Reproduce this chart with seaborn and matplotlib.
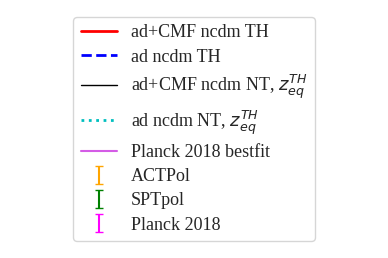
import matplotlib
matplotlib.use("Agg")
import matplotlib.pyplot as plt
import seaborn as sns
import numpy as np

sns.set_style("white")
plt.rcParams['font.family'] = ['Liberation Serif', 'DejaVu Serif']
plt.rcParams['mathtext.fontset'] = 'dejavusans'

labels = ["ad+CMF ncdm TH", "ad ncdm TH", r"ad+CMF ncdm NT, $z_{eq}^{TH}$",
          r"ad ncdm NT, $z_{eq}^{TH}$", "Planck 2018 bestfit"]
ell = [2, 500, 1000, 2000]
curves = {
    "ad+CMF ncdm TH": [1000, 2500, 1800, 800],
    "ad ncdm TH": [1000, 2480, 1790, 790],
    "ad+CMF ncdm NT": [1000, 2490, 1795, 795],
    "ad ncdm NT": [1000, 2470, 1785, 785],
    "Planck 2018 bestfit": [1000, 2450, 1780, 780],
}
data_labels = ["ACTPol", "SPTpol", "Planck 2018"]
data_ell = [600, 1200, 1800]
data_vals = {
    "ACTPol": [2300, 1500, 900],
    "SPTpol": [2280, 1480, 890],
    "Planck 2018": [2320, 1510, 910],
}
data_err = [80, 60, 50]

fig, ax = plt.subplots(figsize=(3.88, 2.58), dpi=100)
styles = [dict(color='red', lw=2, ls='-'),
          dict(color='blue', lw=2, ls='--'),
          dict(color='black', lw=1, ls='-'),
          dict(color='c', lw=2, ls=':'),
          dict(color='#d45ce6', lw=1.5, ls='-')]
keys = list(curves.keys())
for k, lab, st in zip(keys, labels, styles):
    sns.lineplot(x=ell, y=curves[k], ax=ax, label=lab, **st)
ecolors = ['orange', 'green', 'magenta']
for lab, c in zip(data_labels, ecolors):
    ax.errorbar(data_ell, data_vals[lab], yerr=data_err, fmt='none',
                ecolor=c, capsize=3, elinewidth=1.5, label=lab)

handles, labs = ax.get_legend_handles_labels()
if ax.get_legend() is not None:
    ax.get_legend().remove()
ax.set_visible(False)
fig.legend(handles, labs, loc='center', fontsize=13, frameon=True,
           labelspacing=0.4, bbox_to_anchor=(0.5, 0.5))
fig.savefig("out.png", dpi=100)
